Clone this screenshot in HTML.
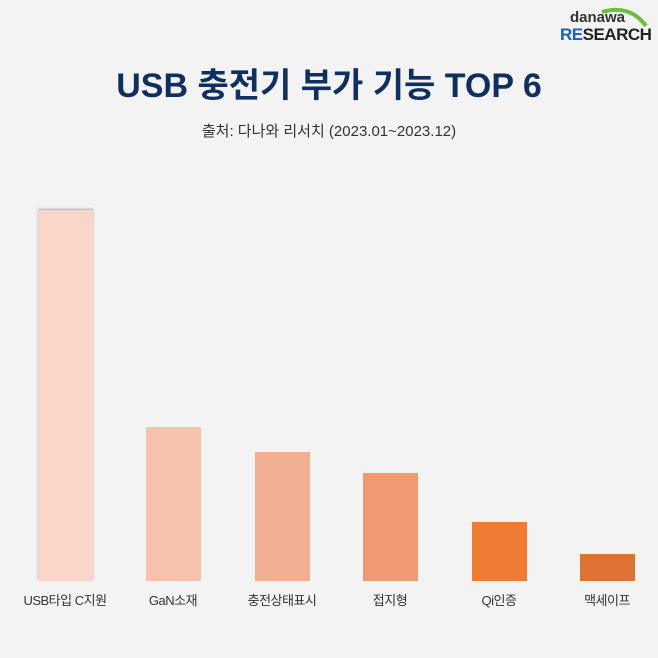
<!DOCTYPE html>
<html><head><meta charset="utf-8"><style>
body{margin:0;width:658px;height:658px;background:#f3f3f3;position:relative;overflow:hidden;font-family:"Liberation Sans","Noto Sans CJK KR",sans-serif}
.b{position:absolute;width:55px;bottom:77px}
.l{position:absolute;top:590px;width:120px;text-align:center;font-size:13px;color:#333;letter-spacing:-0.5px}
</style></head><body>
<div style="position:absolute;left:570px;top:9px;font-size:15px;color:#333;font-weight:bold;">danawa</div>
<div style="position:absolute;left:560px;top:25px;font-size:17px;font-weight:bold;color:#222;letter-spacing:-0.5px"><span style="color:#1c5fb6">RE</span>SEARCH</div>
<svg style="position:absolute;left:600px;top:6px" width="50" height="22"><path d="M2 6 Q30 -2 46 20" stroke="#6bbf3a" stroke-width="4" fill="none"/></svg>
<div style="position:absolute;left:0;width:658px;top:58px;text-align:center;font-size:34px;font-weight:bold;color:#0f2f5f">USB 충전기 부가 기능 TOP 6</div>
<div style="position:absolute;left:0;width:658px;top:120px;text-align:center;font-size:15px;color:#333">출처: 다나와 리서치 (2023.01~2023.12)</div>
<div class="b" style="left:38px;top:210px;background:#f9d6c9;box-shadow:0 -1px 2px #aaa"></div>
<div class="b" style="left:146px;top:427px;background:#f6c1ad"></div>
<div class="b" style="left:255px;top:452px;background:#f2ae93"></div>
<div class="b" style="left:363px;top:473px;background:#f09a72"></div>
<div class="b" style="left:472px;top:522px;background:#ee7d33"></div>
<div class="b" style="left:580px;top:554px;background:#dd7333"></div>
<div class="l" style="left:5px">USB타입 C지원</div>
<div class="l" style="left:113px">GaN소재</div>
<div class="l" style="left:222px">충전상태표시</div>
<div class="l" style="left:330px">접지형</div>
<div class="l" style="left:439px">Qi인증</div>
<div class="l" style="left:547px">맥세이프</div>
</body></html>
